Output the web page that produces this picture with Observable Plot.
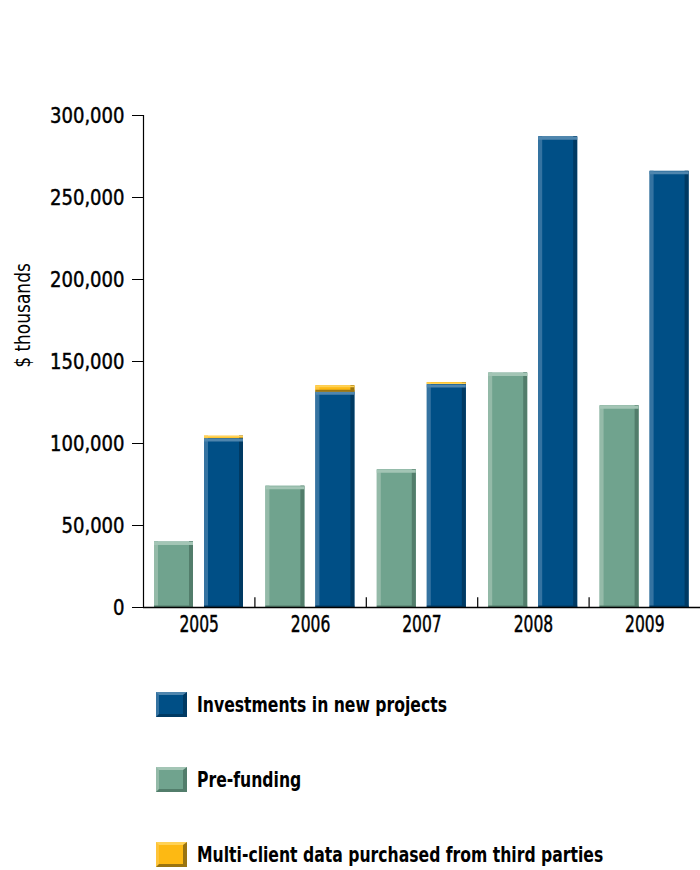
<!DOCTYPE html>
<html>
<head>
<meta charset="utf-8">
<script src="https://cdn.jsdelivr.net/npm/d3@7"></script>
<script src="https://cdn.jsdelivr.net/npm/@observablehq/plot@0.6"></script>
<style>
  body { margin: 0; background: #fff; width: 700px; height: 870px; overflow: hidden;
         font-family: 'DejaVu Sans Condensed', 'DejaVu Sans', sans-serif; }
  #chart svg { display: block; }
  #legend { margin-left: 156px; padding-top: 42px; }
  .row { display: flex; align-items: center; height: 25px; margin-bottom: 50px; white-space: nowrap; }
  .sw { flex: none; width: 31px; height: 25px; box-sizing: border-box; border-style: solid; border-width: 3px 4px 3px 3px; margin-right: 10px; }
  .lab { display: inline-block; font-weight: bold; font-size: 22px; color: #000; transform: scaleX(0.79); transform-origin: left center; }
</style>
</head>
<body>
<div id="chart"></div>
<div id="legend"></div>
<script>
// ---- data ----
const years = ["2005", "2006", "2007", "2008", "2009"];
const preFunding = [40000, 74000, 84000, 143000, 123000];
const investments = [103000, 131500, 136000, 287000, 266000];
const multiClient = [1500, 3700, 1200, 0, 0];
const yTicks = [0, 50000, 100000, 150000, 200000, 250000, 300000];
const yTitle = "$ thousands";
const seriesNames = ["Investments in new projects", "Pre-funding", "Multi-client data purchased from third parties"];

// ---- styling ----
const W = 700, H = 650, ML = 143, MR = 0, MT = 115, MB = 43;
const step = (W - ML - MR) / years.length;
const pad = 11, bw = 39, gap = 11;
const offPre = pad, offInv = pad + bw + gap;
const palette = {
  blue:   {main: "#004f86", light: "#3573a1", top: "#4f86ae", dark: "#003a63"},
  green:  {main: "#70a38e", light: "#94baa8", top: "#a3c5b5", dark: "#527d6b"},
  yellow: {main: "#fdb913", light: "#fec43a", top: "#ffd256", dark: "#9a7410"}
};

const rows = years.map((year, i) => ({
  year, pre: preFunding[i], inv: investments[i], multi: multiClient[i],
  total: investments[i] + multiClient[i], zero: 0
}));

function inset(off, w) { return {insetLeft: off, insetRight: step - off - w}; }

function bevel(data, y1, y2, off, c, topW = 3, bottomData = data) {
  return [
    Plot.barY(data, {x: "year", y1, y2, fill: c.main, ...inset(off, bw)}),
    Plot.barY(data, {x: "year", y1, y2, fill: c.light, ...inset(off, 4)}),
    Plot.barY(data, {x: "year", y1, y2, fill: c.dark, ...inset(off + bw - 4, 4)}),
    Plot.tickY(bottomData, {x: "year", y: y1, stroke: c.dark, strokeWidth: 2, dy: -1, ...inset(off, bw)}),
    Plot.tickY(data, {x: "year", y: y2, stroke: c.top, strokeWidth: topW, dy: topW / 2, ...inset(off, bw)})
  ];
}

const boundaryTickTop = 6000; // short upward ticks between year groups
const multiRows = rows.filter(d => d.multi > 0);

const plot = Plot.plot({
  width: W, height: H,
  marginLeft: ML, marginRight: MR, marginTop: MT, marginBottom: MB,
  style: {fontFamily: "'DejaVu Sans Condensed', 'DejaVu Sans', sans-serif", fontSize: "22px", color: "#000", background: "#fff", overflow: "visible"},
  x: {domain: years, padding: 0, round: false, tickSize: 0, tickPadding: 8, label: null},
  y: {domain: [0, 300000], ticks: yTicks, tickFormat: d3.format(","), tickSize: 11, tickPadding: 8, label: null},
  marks: [
    ...bevel(rows, "zero", "pre", offPre, palette.green),
    ...bevel(rows, "zero", "inv", offInv, palette.blue),
    ...bevel(multiRows, "inv", "total", offInv, palette.yellow, 1.5, multiRows.filter(d => d.multi > 2000)),
    Plot.ruleY([0], {stroke: "#000", strokeWidth: 1.5}),
    Plot.ruleX(years.slice(0, 1), {x: d => d, y1: 0, y2: 300000, dx: -step / 2, stroke: "#000", strokeWidth: 1.2}),
    Plot.ruleX(years.slice(1), {x: d => d, y1: 0, y2: boundaryTickTop, dx: -step / 2, stroke: "#000", strokeWidth: 1.2}),
    Plot.text([yTitle], {text: d => d, frameAnchor: "left", textAnchor: "middle", rotate: -90, dx: -121, dy: -46, fontSize: 22, fill: "#000"})
  ]
});
document.getElementById("chart").appendChild(plot);

// condense text horizontally to mimic the narrow typeface
function condense(sel, ratio) {
  plot.querySelectorAll(sel).forEach(t => {
    const len = t.getComputedTextLength();
    t.setAttribute("textLength", (len * ratio).toFixed(1));
    t.setAttribute("lengthAdjust", "spacingAndGlyphs");
  });
}
plot.querySelectorAll('g[aria-label^="x-axis"] text').forEach(t => { t.style.fontSize = "23px"; });
plot.querySelectorAll('g[aria-label^="x-axis"] text, g[aria-label^="y-axis"] text').forEach(t => {
  t.style.stroke = "#000"; t.style.strokeWidth = "0.45px";
});
condense('g[aria-label^="y-axis"] text', 0.91);
condense('g[aria-label^="x-axis"] text', 0.75);
condense('g[aria-label="text"] text', 0.86);

// ---- legend ----
const legendColors = [palette.blue, palette.green, palette.yellow];
const legend = document.getElementById("legend");
seriesNames.forEach((name, i) => {
  const c = legendColors[i];
  const row = document.createElement("div");
  row.className = "row";
  const sw = document.createElement("div");
  sw.className = "sw";
  sw.style.background = c.main;
  sw.style.borderColor = `${c.top} ${c.dark} ${c.dark} ${c.light}`;
  const lab = document.createElement("span");
  lab.className = "lab";
  lab.textContent = name;
  row.appendChild(sw);
  row.appendChild(lab);
  legend.appendChild(row);
});
</script>
</body>
</html>
